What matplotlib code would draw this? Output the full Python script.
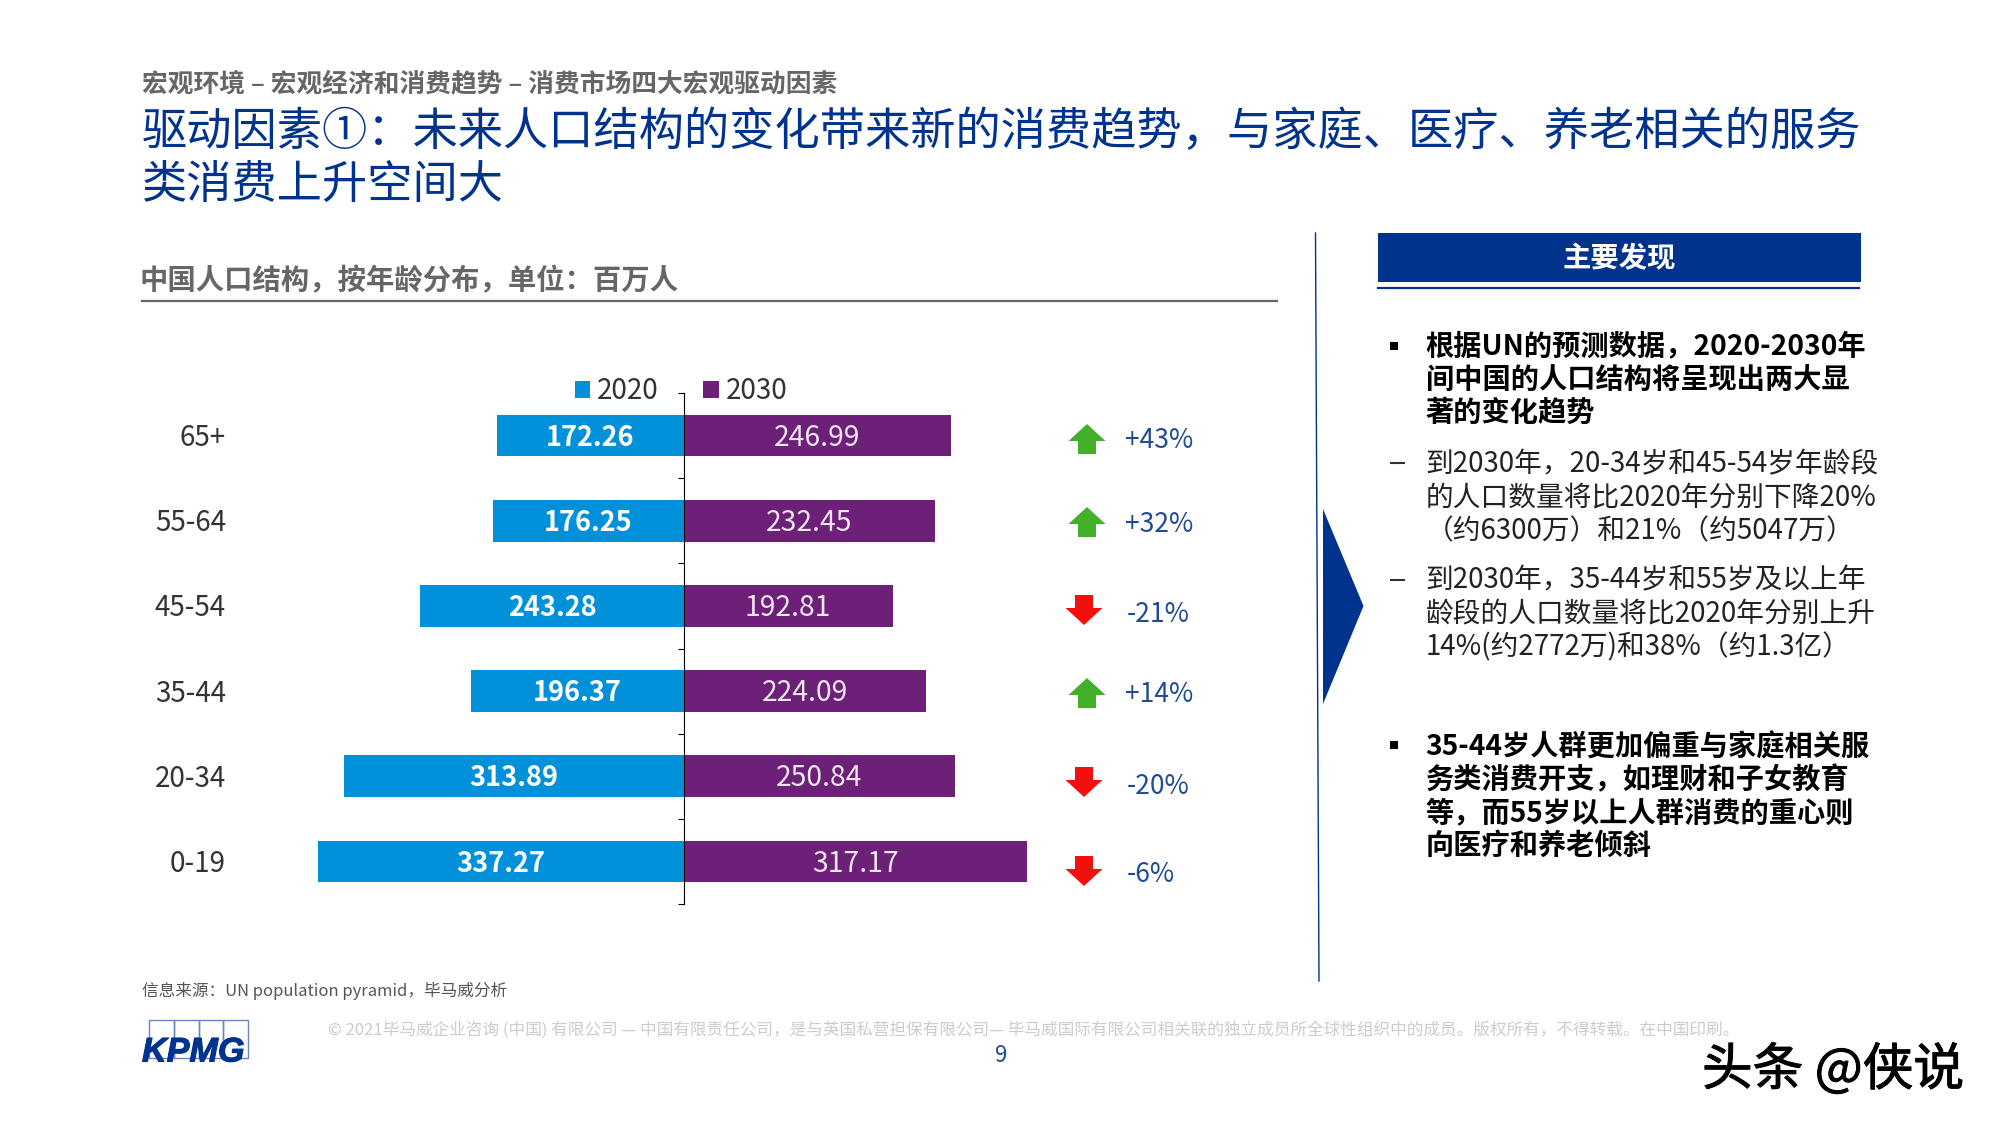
import matplotlib
matplotlib.use('Agg')
import matplotlib.pyplot as plt
from matplotlib.patches import Rectangle, Polygon, FancyArrow
import matplotlib.patheffects as pe

plt.rcParams['font.family'] = ['Noto Sans CJK SC', 'DejaVu Sans']

ages = ['65+', '55-64', '45-54', '35-44', '20-34', '0-19']
pop_2020 = [172.26, 176.25, 243.28, 196.37, 313.89, 337.27]
pop_2030 = [246.99, 232.45, 192.81, 224.09, 250.84, 317.17]
changes = ['+43%', '+32%', '-21%', '+14%', '-20%', '-6%']

kicker = '宏观环境 – 宏观经济和消费趋势 – 消费市场四大宏观驱动因素'
title_lines = ['驱动因素①：未来人口结构的变化带来新的消费趋势，与家庭、医疗、养老相关的服务', '类消费上升空间大']
chart_title = '中国人口结构，按年龄分布，单位：百万人'
source = '信息来源：UN population pyramid，毕马威分析'
legal = ('© 2021毕马威企业咨询 (中国) 有限公司 — 中国有限责任公司，是与英国私营担保有限公司— '
         '毕马威国际有限公司相关联的独立成员所全球性组织中的成员。版权所有，不得转载。在中国印刷。')

finding_1 = ['根据UN的预测数据，2020-2030年', '间中国的人口结构将呈现出两大显', '著的变化趋势']
finding_1a = ['到2030年，20-34岁和45-54岁年龄段', '的人口数量将比2020年分别下降20%', '（约6300万）和21%（约5047万）']
finding_1b = ['到2030年，35-44岁和55岁及以上年', '龄段的人口数量将比2020年分别上升', '14%(约2772万)和38%（约1.3亿）']
finding_2 = ['35-44岁人群更加偏重与家庭相关服', '务类消费开支，如理财和子女教育', '等，而55岁以上人群消费的重心则', '向医疗和养老倾斜']

BLUE = '#00338D'
GREY = '#666666'


def block(bg, lines, x, ys, **kw):
    for line, y in zip(lines, ys):
        bg.text(x, y, line, va='center', ha='left', **kw)


def main():
    fig = plt.figure(figsize=(20, 11.25), dpi=100)

    # page layer, coordinates in pixels
    bg = fig.add_axes([0, 0, 1, 1])
    bg.set_xlim(0, 2000)
    bg.set_ylim(1125, 0)
    bg.axis('off')

    bg.text(142, 84, kicker, fontsize=18.5, fontweight='bold', color=GREY, va='center')
    bg.text(142, 132, title_lines[0], fontsize=32.55, color=BLUE, va='center')
    bg.text(142, 185, title_lines[1], fontsize=32.55, color=BLUE, va='center')

    bg.text(140, 281, chart_title, fontsize=20.4, fontweight='bold', color=GREY, va='center')
    bg.plot([142, 1277], [300.5, 300.5], color=GREY, lw=1.6)

    # population bars
    ax = fig.add_axes([200 / 2000, 1 - 904 / 1125, 900 / 2000, 511 / 1125])
    ax.patch.set_alpha(0)
    y = list(range(len(ages)))
    left = ax.barh(y, [-v for v in pop_2020], height=0.49, color='#0091DA', label='2020')
    right = ax.barh(y, pop_2030, height=0.49, color='#6D2077', label='2030')
    labels = ax.bar_label(left, labels=['%.2f' % v for v in pop_2020], label_type='center',
                          color='white', fontsize=19.5, fontweight='bold')
    labels += ax.bar_label(right, labels=['%.2f' % v for v in pop_2030], label_type='center',
                           color='#EFE6F0', fontsize=20.4)
    for t in labels:
        t.xyann = (0, -1.5)
    ax.set_xlim(-446.6, 384.4)
    ax.set_ylim(5.5, -0.5)
    for s in ['top', 'right', 'bottom']:
        ax.spines[s].set_visible(False)
    ax.spines['left'].set_position(('data', 0))
    ax.spines['left'].set_linewidth(0.8)
    ax.set_xticks([])
    ax.set_yticks([i - 0.5 for i in range(len(ages) + 1)])
    ax.tick_params(axis='y', length=4.5, width=0.8, labelleft=False)
    ax.legend(loc='center', bbox_to_anchor=(681 / 2000, 1 - 391 / 1125), bbox_transform=fig.transFigure,
              ncol=2, frameon=False, fontsize=20, handlelength=0.55, handleheight=0.55,
              handletextpad=0.25, columnspacing=1.6, borderpad=0, labelcolor='#333333')

    for i, age in enumerate(ages):
        bg.text(226, 438 + 85.2 * i, age, fontsize=20, color='#333333', ha='right', va='center')

    # change arrows
    arrow_y = [439, 522, 610, 693, 782, 871]
    label_y = [441, 525, 614, 695, 786, 875]
    for c, ay, ly in zip(changes, arrow_y, label_y):
        up = c.startswith('+')
        ax_x = 1087 if up else 1084
        start = ay + 15 if up else ay - 15
        bg.add_patch(FancyArrow(ax_x, start, 0, -30 if up else 30, width=18, head_width=37,
                                head_length=17, length_includes_head=True, lw=0,
                                color='#43B02A' if up else '#F40F0F'))
        bg.text(1125 if up else 1127, ly, c, fontsize=19, color='#1E4A96', va='center')

    # divider and chevron
    bg.plot([1315.5, 1319], [233, 981], color=BLUE, lw=1)
    bg.add_patch(Polygon([(1323, 509), (1363.5, 606), (1323, 704)], closed=True, color=BLUE, lw=0))

    # key findings
    bg.add_patch(Rectangle((1378, 233), 483, 49, color=BLUE, lw=0))
    bg.plot([1378, 1859], [288, 288], color=BLUE, lw=1.6)
    bg.text(1619, 259, '主要发现', color='white', fontsize=20.4, fontweight='bold', ha='center', va='center')

    bold = dict(fontsize=20.3, fontweight='bold', color='black')
    plain = dict(fontsize=19.95, color='#222222')
    block(bg, finding_1, 1425.5, [346, 380, 413], **bold)
    block(bg, finding_1a, 1425.5, [464, 497, 531], **plain)
    block(bg, finding_1b, 1425.5, [580, 614, 647], **plain)
    block(bg, finding_2, 1425.5, [747, 780, 813, 846], **bold)
    for by in [346, 745]:
        bg.add_patch(Rectangle((1390, by - 4), 8, 8, color='black', lw=0))
    for by in [463, 580]:
        bg.plot([1391, 1404], [by, by], color='#333333', lw=1.5)

    # footer
    bg.text(142, 991, source, fontsize=11.97, color='#555555', va='center')
    bg.text(327.5, 1030, legal, fontsize=12, color='#CCCCCC', va='center')
    bg.text(1001, 1055, '9', fontsize=16, color='#1E4A96', ha='center', va='center')

    for i in range(4):
        bg.add_patch(Rectangle((149 + i * 24.8, 1020), 24.8, 38, fill=False, ec='#6C86BC', lw=1))
    kp = bg.text(142, 1053, 'KPMG', family='Liberation Sans', fontsize=24.6, fontweight='bold',
                 style='italic', color=BLUE, va='center')
    kp.set_path_effects([pe.withStroke(linewidth=0.8, foreground=BLUE)])

    mark = bg.text(1702, 1071, '头条 @侠说', fontsize=36.5, color='black', va='center')
    mark.set_path_effects([pe.Stroke(linewidth=3.5, foreground='white'),
                           pe.Stroke(linewidth=0.7, foreground='black'), pe.Normal()])

    fig.savefig('out.png', dpi=100)


if __name__ == '__main__':
    main()
